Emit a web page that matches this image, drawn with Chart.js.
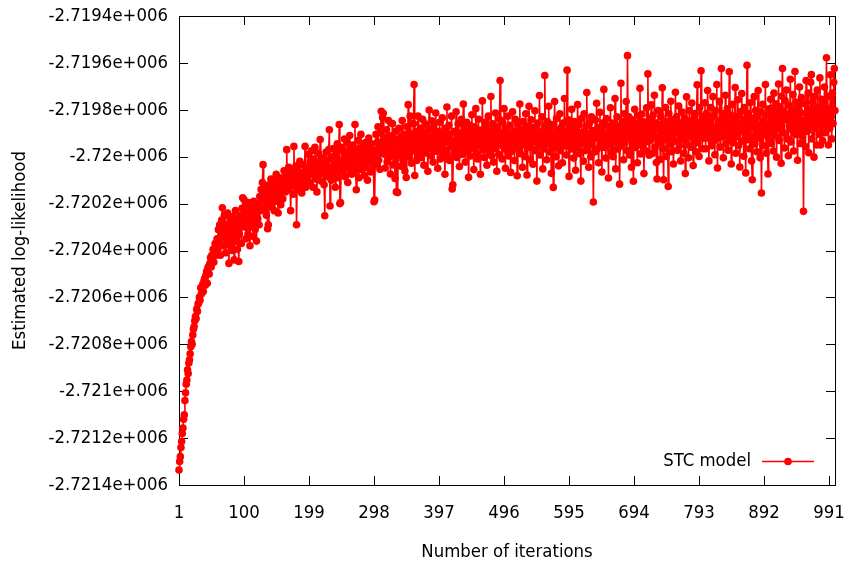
<!DOCTYPE html>
<html><head><meta charset="utf-8">
<script src="https://cdn.jsdelivr.net/npm/chart.js@4.4.1/dist/chart.umd.min.js"></script>
<style>html,body{margin:0;padding:0;background:#fff}#wrap{width:851px;height:567px}</style>
</head><body><div id="wrap"><canvas id="c" width="851" height="567"></canvas></div>
<script>
const seriesLabel = 'STC model';
const xTitle = 'Number of iterations';
const yTitle = 'Estimated log-likelihood';
const xTickValues = [1, 100, 199, 298, 397, 496, 595, 694, 793, 892, 991];
const yTickValues = [-2721400, -2721200, -2721000, -2720800, -2720600, -2720400, -2720200, -2720000, -2719800, -2719600, -2719400];
const yTickLabels = ['-2.7214e+006', '-2.7212e+006', '-2.721e+006', '-2.7208e+006', '-2.7206e+006', '-2.7204e+006', '-2.7202e+006', '-2.72e+006', '-2.7198e+006', '-2.7196e+006', '-2.7194e+006'];
// estimated log-likelihood = LOGLIK_BASE + offset, one entry per iteration 1..1000
const LOGLIK_BASE = -2720000;
const logLikOffset = [
-1336,-1300,-1279,-1240,-1215,-1180,-1157,-1120,-1101,-1040,-1007,-970,-952,-909,-925,-880,-866,-840,-810,-788,
-800,-760,-735,-724,-700,-682,-690,-650,-660,-628,-623,-600,-612,-559,-585,-560,-545,-575,-530,-520,
-548,-505,-490,-540,-475,-468,-500,-455,-430,-470,-420,-440,-395,-450,-405,-370,-383,-420,-350,-395,
-311,-360,-290,-420,-335,-270,-218,-300,-380,-250,-345,-410,-290,-330,-240,-375,-455,-310,-265,-350,
-300,-400,-255,-330,-440,-285,-230,-360,-310,-395,-270,-447,-330,-250,-300,-370,-220,-175,-290,-183,
-300,-240,-350,-210,-280,-330,-195,-260,-380,-240,-300,-215,-270,-340,-190,-255,-310,-230,-360,-200,
-265,-215,-290,-170,-230,-140,-190,-110,-34,-175,-220,-130,-180,-250,-150,-307,-290,-120,-200,-160,
-95,-215,-140,-185,-105,-230,-170,-130,-75,-190,-145,-240,-120,-165,-90,-205,-150,-110,-180,-130,
-60,-115,-150,-70,30,-95,-140,-45,-110,-80,-230,-120,-55,-100,-160,44,-75,-125,-40,-290,
-105,-60,-140,-85,-20,-120,-70,-155,-90,-35,-110,-65,44,-130,-80,-50,-90,10,-60,-110,
-20,-75,25,-45,-130,-10,-65,40,-95,-30,-150,-50,15,-80,-25,73,-60,-105,-5,-70,
-40,-120,-252,-35,20,-85,-15,-60,30,115,-210,-45,-100,0,-55,35,-75,-20,-130,10,
-50,55,-90,-15,137,-200,-195,-30,40,-60,25,-20,75,-85,5,-40,60,-110,15,-15,
90,-50,30,-75,0,50,-35,20,137,-60,-141,10,-25,70,-90,35,-10,95,-55,20,
-30,45,-80,5,60,-45,25,-100,10,80,-20,40,-65,55,-5,30,-40,-192,-185,20,
95,-28,63,128,-15,43,-54,102,194,30,167,185,11,82,-48,50,115,-22,69,154,
-2,56,-74,89,17,141,-35,76,37,-93,108,-150,24,-153,63,121,4,82,-41,50,
154,-15,95,30,-61,69,-89,128,11,222,102,-2,173,43,-28,89,24,141,308,-80,
55,108,-16,68,173,10,88,29,121,-3,95,160,42,-36,75,140,16,101,55,-62,
114,199,36,82,3,153,62,-23,127,49,95,186,23,68,-49,108,42,147,-10,88,
55,166,10,101,29,-75,121,75,212,3,62,134,-16,95,42,173,-138,-120,68,16,
108,49,192,-3,82,140,29,-42,101,55,160,10,88,225,36,121,-23,68,147,23,
95,-88,55,134,3,108,179,36,82,-55,127,62,205,16,101,-10,160,49,88,-75,
114,68,238,29,95,-3,147,55,121,-36,82,173,23,101,49,257,3,75,140,-23,
108,36,186,62,-62,127,88,10,160,325,55,101,-10,147,42,205,75,-49,121,29,
95,173,3,68,134,-67,88,23,192,55,108,-16,160,49,82,-81,140,36,101,225,
13,118,65,-45,150,52,98,0,183,78,-78,131,39,215,92,-13,157,59,111,-32,
124,72,196,26,98,-104,144,46,85,261,7,105,52,170,-52,92,33,346,131,65,
-13,150,78,215,20,118,52,-71,137,92,-131,39,235,98,0,163,59,111,-39,78,
183,26,124,65,-26,144,85,248,46,105,7,369,92,157,-84,72,131,33,202,52,
98,-6,150,78,-58,118,39,222,65,137,13,92,-104,163,59,105,-19,183,85,26,
131,274,46,98,-45,144,72,0,170,52,111,-193,78,20,157,92,228,33,124,-26,
85,189,52,118,-65,144,65,287,39,98,-6,163,78,131,-91,105,52,209,20,92,
144,0,118,65,248,-52,85,170,33,131,72,-117,105,313,46,150,92,-13,183,59,
124,235,26,431,98,170,7,131,78,-45,157,52,-105,118,202,39,144,85,-26,176,
58,123,292,12,97,182,45,149,-72,84,130,25,208,64,353,110,6,162,71,221,
105,14,177,86,262,40,145,-25,-95,118,197,60,138,-12,171,92,294,34,-98,125,
73,210,1,151,99,-127,184,53,118,236,21,158,79,-31,138,66,275,105,171,27,
125,216,47,145,-18,92,190,73,132,14,164,-72,112,255,53,151,-5,197,86,132,
40,229,105,-38,158,73,184,21,118,307,60,145,1,210,92,366,138,34,171,79,
112,230,34,184,80,282,138,-18,158,93,210,47,171,256,67,125,8,197,99,308,
-48,152,80,236,41,138,376,112,184,-5,165,86,262,54,145,204,28,119,362,73,
178,-31,132,223,60,152,106,295,15,171,86,243,47,138,-44,191,112,269,67,158,
2,210,99,-69,145,390,73,184,119,34,230,138,-18,-98,165,86,256,54,197,125,
21,171,282,80,138,-5,191,-155,106,223,47,152,93,308,15,178,119,-74,204,80,
128,245,56,206,141,24,271,173,89,226,-2,187,121,310,69,213,154,-28,258,376,
102,193,37,239,160,284,76,180,4,219,134,330,63,200,115,265,24,167,363,95,
232,141,-15,206,115,297,56,187,252,89,154,-233,128,226,43,325,180,108,271,17,
200,128,317,350,76,232,160,-2,258,121,193,50,284,141,213,95,336,50,173,245,
69,219,134,297,102,187,422,154,258,50,206,121,349,173,76,271,141,317,376,197
];
const iterations = logLikOffset.map((_, i) => i + 1);

const RED = '#ff0000';
const FONT = { family: "'DejaVu Sans Condensed', 'DejaVu Sans', sans-serif", size: 18.4 };
const TICK_LEN = 9;

const framePlugin = {
  id: 'gnuFrame',
  beforeDatasetsDraw(chart) {
    const { ctx, chartArea: a, scales: { x, y } } = chart;
    ctx.save();
    ctx.strokeStyle = '#000';
    ctx.lineWidth = 1;
    ctx.beginPath();
    x.ticks.forEach(t => {
      const px = Math.round(x.getPixelForValue(t.value)) + 0.5;
      ctx.moveTo(px, a.bottom); ctx.lineTo(px, a.bottom - TICK_LEN);
      ctx.moveTo(px, a.top); ctx.lineTo(px, a.top + TICK_LEN);
    });
    y.ticks.forEach(t => {
      const py = Math.round(y.getPixelForValue(t.value)) + 0.5;
      ctx.moveTo(a.left, py); ctx.lineTo(a.left + TICK_LEN, py);
      ctx.moveTo(a.right, py); ctx.lineTo(a.right - TICK_LEN, py);
    });
    ctx.stroke();
    ctx.strokeRect(Math.round(a.left) + 0.5, Math.round(a.top) + 0.5, Math.round(a.width), Math.round(a.height));
    ctx.restore();
  }
};

const legendPlugin = {
  id: 'gnuKey',
  afterDraw(chart) {
    const { ctx, chartArea: a } = chart;
    const ds = chart.data.datasets[0];
    const cy = a.bottom - 23.5;
    const textRight = a.right - 84;
    ctx.save();
    ctx.font = `${FONT.size}px ${FONT.family}`;
    ctx.fillStyle = '#000';
    ctx.textAlign = 'right';
    ctx.textBaseline = 'middle';
    ctx.fillText(ds.label, textRight, cy);
    ctx.strokeStyle = RED;
    ctx.lineWidth = 1.4;
    ctx.beginPath();
    ctx.moveTo(textRight + 11, cy); ctx.lineTo(textRight + 63, cy);
    ctx.stroke();
    ctx.fillStyle = RED;
    ctx.beginPath();
    ctx.arc(textRight + 37, cy, 3.8, 0, Math.PI * 2);
    ctx.fill();
    ctx.restore();
  }
};

new Chart(document.getElementById('c'), {
  type: 'line',
  data: {
    datasets: [{
      label: seriesLabel,
      data: iterations.map((it, i) => ({ x: it, y: LOGLIK_BASE + logLikOffset[i] })),
      borderColor: RED,
      backgroundColor: RED,
      borderWidth: 1.6,
      pointRadius: 3.8,
      pointBorderWidth: 0,
      pointBackgroundColor: RED,
      pointHoverRadius: 3.8,
      tension: 0,
      fill: false,
      clip: false
    }]
  },
  options: {
    responsive: false,
    animation: false,
    devicePixelRatio: 1,
    events: [],
    layout: { padding: { left: 0, right: 16, top: 16, bottom: 0 } },
    plugins: { legend: { display: false }, tooltip: { enabled: false } },
    scales: {
      x: {
        type: 'linear', min: 1, max: 1000,
        grid: { display: false, drawTicks: false },
        border: { display: false },
        afterBuildTicks: s => { s.ticks = xTickValues.map(v => ({ value: v })); },
        afterFit: s => { s.height = 82; s.paddingLeft = 0; s.paddingRight = 0; },
        ticks: { font: FONT, color: '#000', padding: 17, maxRotation: 0, autoSkip: false, callback: v => String(v) },
        title: { display: true, text: xTitle, font: FONT, color: '#000', padding: { top: 0, bottom: 4 } }
      },
      y: {
        type: 'linear', min: -2721400, max: -2719400,
        grid: { display: false, drawTicks: false },
        border: { display: false },
        afterBuildTicks: s => { s.ticks = yTickValues.map(v => ({ value: v })); },
        afterFit: s => { s.width = 179; s.paddingTop = 0; s.paddingBottom = 0; },
        ticks: { font: FONT, color: '#000', padding: 11, autoSkip: false, callback: v => yTickLabels[yTickValues.indexOf(v)] },
        title: { display: true, text: yTitle, font: FONT, color: '#000', padding: { top: 9, bottom: 0 } }
      }
    }
  },
  plugins: [framePlugin, legendPlugin]
});
</script>
</body></html>
